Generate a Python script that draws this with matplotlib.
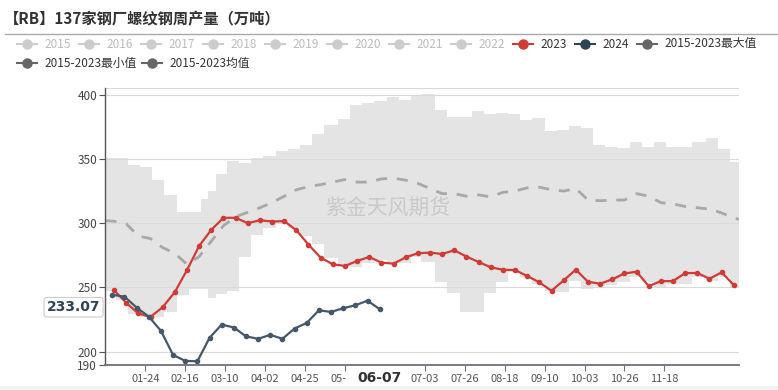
import datetime as dt
import numpy as np
import pandas as pd
import matplotlib
matplotlib.use('Agg')
import matplotlib.pyplot as plt
from matplotlib.lines import Line2D
from matplotlib.patches import Rectangle
from matplotlib.transforms import blended_transform_factory

plt.rcParams['font.family'] = ['Noto Sans CJK SC', 'DejaVu Sans']

# 周产量数据 (万吨)
prod_2023 = [247.7, 238.0, 229.7, 227.1, 234.6, 246.4, 263.5, 282.3, 294.8, 304.2,
             304.2, 300.0, 302.3, 301.3, 301.6, 294.5, 283.3, 273.2, 268.0, 266.7,
             270.6, 273.7, 269.3, 268.5, 273.4, 276.6, 277.1, 276.0, 278.9, 274.0,
             269.8, 265.6, 263.8, 263.5, 258.9, 253.9, 247.4, 255.5, 263.8, 254.4,
             252.9, 256.3, 260.9, 262.2, 251.0, 254.9, 254.9, 261.2, 261.2, 256.8,
             261.7, 251.8]
prod_2024 = [244.3, 242.8, 234.3, 227.3, 216.2, 197.4, 192.8, 192.5, 210.8, 221.1,
             218.8, 211.9, 210.0, 213.1, 210.0, 218.0, 222.4, 232.2, 230.9, 233.8,
             236.1, 239.7, 233.07]

# 2015-2023 均值 (首尾为年初/年末)
mean_2015_2023 = [302, 301.5, 299.5, 290, 288, 281, 276.5, 268, 274, 286, 298,
                  305, 308.5, 312, 316, 321, 326, 328.5, 330, 332, 334,
                  332, 332, 334.5, 335, 333.5, 331, 327, 323, 323, 321,
                  322, 320.5, 324, 325, 327.5, 328, 326, 325, 327, 318,
                  317.5, 318, 318, 323, 321, 316, 315, 313, 312, 311,
                  308, 304, 303]

# 2015-2023 最大/最小值区间
band_dates = ["01-01", "01-07", "01-14", "01-21", "01-28", "02-04", "02-11", "02-18",
              "02-25", "02-29", "03-05", "03-11", "03-18", "03-25", "04-01", "04-08",
              "04-15", "04-22", "04-29", "05-06", "05-14", "05-21", "05-28", "06-04",
              "06-11", "06-18", "06-25", "07-01", "07-09", "07-16", "07-23", "07-30",
              "08-06", "08-13", "08-20", "08-27", "09-03", "09-10", "09-17", "09-24",
              "10-01", "10-08", "10-15", "10-22", "10-29", "11-05", "11-12", "11-19",
              "11-26", "12-04", "12-12", "12-19", "12-26"]
band_max = [350.8, 350.8, 345.5, 344, 334, 322, 309, 309, 319, 325, 338, 348.7, 347,
            351, 352, 356.4, 358, 360.6, 369.7, 376.6, 381, 391.7, 393.5, 394.8, 398.2,
            396, 400, 400.4, 388.3, 383, 382.5, 387, 385, 386, 385, 380.5, 381.8, 371.5,
            372.8, 376, 374, 360.6, 359.3, 358.5, 363.2, 359.3, 363.2, 359.6, 359.6,
            363.2, 366.3, 357.8, 348]
band_min = [247.5, 240, 229, 227, 227, 231, 244, 248.4, 248.4, 241.4, 244.5, 247.6,
            273.4, 290.9, 296, 300, 296, 290, 284, 272.7, 267, 266, 269, 271, 268.8,
            268.8, 274, 270, 254.4, 245.9, 230.5, 230.5, 245.5, 254.4, 262, 258, 253,
            247, 246.6, 255, 248.5, 251, 251.5, 254, 258, 254.4, 250, 253, 253, 258,
            255, 258, 250]

x_tick_labels = ['01-24', '02-16', '03-10', '04-02', '04-25', '05-18',
                 '07-03', '07-26', '08-18', '09-10', '10-03', '10-26', '11-18']
y_ticks = [190, 200, 250, 300, 350, 400]

legend_row1 = ['2015', '2016', '2017', '2018', '2019', '2020', '2021', '2022',
               '2023', '2024', '2015-2023最大值']
legend_row2 = ['2015-2023最小值', '2015-2023均值']


def doy(md):
    m, d = map(int, md.split('-'))
    return (dt.date(2024, m, d) - dt.date(2024, 1, 1)).days


days_2023 = np.asarray(pd.date_range('2024-01-06', periods=len(prod_2023), freq='7D').dayofyear) - 1
days_2024 = np.asarray(pd.date_range('2024-01-05', periods=len(prod_2024), freq='7D').dayofyear) - 1
days_mean = np.r_[0, days_2023, 365]

W, H = 778, 390
fig = plt.figure(figsize=(W / 100, H / 100), dpi=100)
ax = fig.add_axes([105.4 / W, 1 - 364.5 / H, (739 - 105.4) / W, (364.5 - 88.3) / H])

# 区间阴影
xb = [doy(d) for d in band_dates] + [365]
ax.fill_between(xb, band_min + [band_min[-1]], band_max + [band_max[-1]],
                step='post', color='#e4e4e4', lw=0, zorder=1)

for yv in [200, 250, 300, 350, 400, 405]:
    ax.axhline(yv, color='#d9d9d9', lw=0.8, zorder=1.5)

ax.plot(days_mean, mean_2015_2023, color='#a8a8a8', lw=2, dashes=(4, 3.5), zorder=2)
ax.plot(days_2023, prod_2023, color='#d13b35', lw=1.6, marker='o', ms=3, zorder=4)
ax.plot(days_2024, prod_2024, color='#44586a', lw=1.6, marker='o', ms=3, zorder=5)

ax.set_xlim(0, 365)
ax.set_ylim(190, 405)
ax.set_yticks(y_ticks)
ax.set_xticks([doy(t) for t in x_tick_labels])
ax.set_xticklabels(x_tick_labels)
for s in ['top', 'right']:
    ax.spines[s].set_visible(False)
ax.spines['left'].set_color('#555555')
ax.spines['left'].set_linewidth(1)
ax.spines['bottom'].set_color('#6e7079')
ax.spines['bottom'].set_linewidth(1.3)
ax.tick_params(axis='y', length=4, color='#555555', labelsize=8.5, labelcolor='#444444', pad=2)
ax.tick_params(axis='x', length=4, color='#6e7079', labelsize=8, labelcolor='#555555', pad=3)

# 指示器标签 (x轴)
x_ptr = ax.transData.transform((doy('06-07'), 190))[0] / W
fig.add_artist(Rectangle((347 / W, 4 / H), 56 / W, 17 / H, transform=fig.transFigure,
                         fc='white', ec='none'))
fig.text(x_ptr, 1 - 378 / H, '06-07', ha='center', va='center', fontsize=10,
         fontweight='bold', color='#333333', family=['DejaVu Sans'])

# 指示器标签 (y轴)
tr2 = blended_transform_factory(ax.transAxes, ax.transData)
ax.text(-0.008, prod_2024[-1] + 1.5, '233.07', transform=tr2, ha='right', va='center',
        fontsize=10, fontweight='bold', color='#2f4554', zorder=10, family=['DejaVu Sans'],
        bbox=dict(boxstyle='round,pad=0.2,rounding_size=0.2', fc='white', ec='#cccccc', lw=0.8),
        clip_on=False)

# 水印
fig.text(388 / W, 1 - 208 / H, '紫金天风期货', fontsize=15, color='#c9c9c9',
         ha='center', va='center')

# 标题
fig.text(4 / W, 1 - 19 / H, '【RB】137家钢厂螺纹钢周产量（万吨）', fontsize=11,
         fontweight='bold', color='#333333', va='center')
fig.add_artist(Line2D([5 / W, 1], [1 - 34 / H] * 2, color='#aaaaaa', lw=1))
fig.add_artist(Rectangle((0, 0), 1, 4 / H, transform=fig.transFigure,
                         fc='#f2f2f2', ec='none'))

# 图例
icon_colors = ['#cccccc'] * 8 + ['#d13b35', '#2f4554', '#666666']
text_colors = ['#bbbbbb'] * 8 + ['#333333', '#333333', '#333333']


def legend_item(x0, y, label, icol, tcol):
    yf = 1 - y / H
    fig.add_artist(Line2D([x0 / W, (x0 + 20) / W], [yf, yf], color=icol, lw=1.5))
    fig.add_artist(Line2D([(x0 + 10) / W], [yf], color=icol, marker='o', ms=6.5, lw=0))
    fig.text((x0 + 27) / W, yf, label, fontsize=8.5, color=tcol, va='center')


for i, lab in enumerate(legend_row1):
    legend_item(17 + 62 * i, 44, lab, icon_colors[i], text_colors[i])
for x0, lab in zip([17, 142], legend_row2):
    legend_item(x0, 63, lab, '#666666', '#333333')

fig.savefig('out.png', dpi=100)
